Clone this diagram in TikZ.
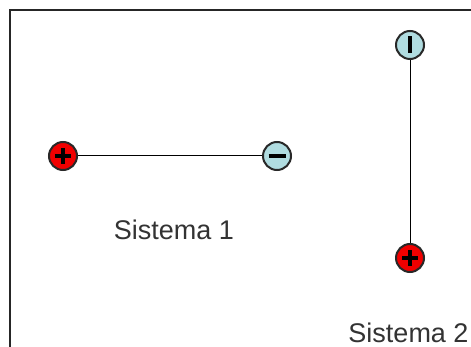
\documentclass[tikz,border=0pt]{standalone}
\usepackage{fontspec}
\setmainfont{Liberation Sans}
\usetikzlibrary{calc}
\definecolor{chargered}{RGB}{240,0,0}
\definecolor{chargeblue}{RGB}{176,220,224}
\definecolor{rimgray}{RGB}{40,40,40}
\tikzset{
  charge/.style={circle, draw=rimgray, line width=2pt, minimum size=28pt, inner sep=0pt},
  poscharge/.style={charge, fill=chargered},
  negcharge/.style={charge, fill=chargeblue},
  signbar/.style={line width=3.6pt, black},
  link/.style={line width=1pt, black},
  systext/.style={font=\fontsize{27}{31}\selectfont, text=black!80, inner sep=0pt, anchor=base}
}
\begin{document}
\begin{tikzpicture}[x=1pt, y=-1pt]
  \useasboundingbox (0,0) rectangle (471,347);
  \fill[white] (0,0) rectangle (471,347);
  % frame edges
  \draw[line width=1.5pt, black!85] (10,347) -- (10,10) -- (471,10);

  % system 1: horizontal dipole
  \node[poscharge] (p1) at (63,156) {};
  \node[negcharge] (n1) at (277,156) {};
  \draw[link] (p1) -- (n1);
  \draw[signbar] ($(p1)+(-8,0)$) -- ($(p1)+(8,0)$);
  \draw[signbar] ($(p1)+(0,-8)$) -- ($(p1)+(0,8)$);
  \draw[signbar] ($(n1)+(-8.5,0)$) -- ($(n1)+(8.5,0)$);
  \node[systext] (s1) at (174,240) {Sistema 1};

  % system 2: vertical dipole
  \node[negcharge] (n2) at (410,45) {};
  \node[poscharge] (p2) at (410,258) {};
  \draw[link] (n2) -- (p2);
  \draw[signbar] ($(n2)+(0,-8.5)$) -- ($(n2)+(0,8.5)$);
  \draw[signbar] ($(p2)+(-8,0)$) -- ($(p2)+(8,0)$);
  \draw[signbar] ($(p2)+(0,-8)$) -- ($(p2)+(0,8)$);
  \node[systext] (s2) at (408.5,342) {Sistema 2};
\end{tikzpicture}
\end{document}
